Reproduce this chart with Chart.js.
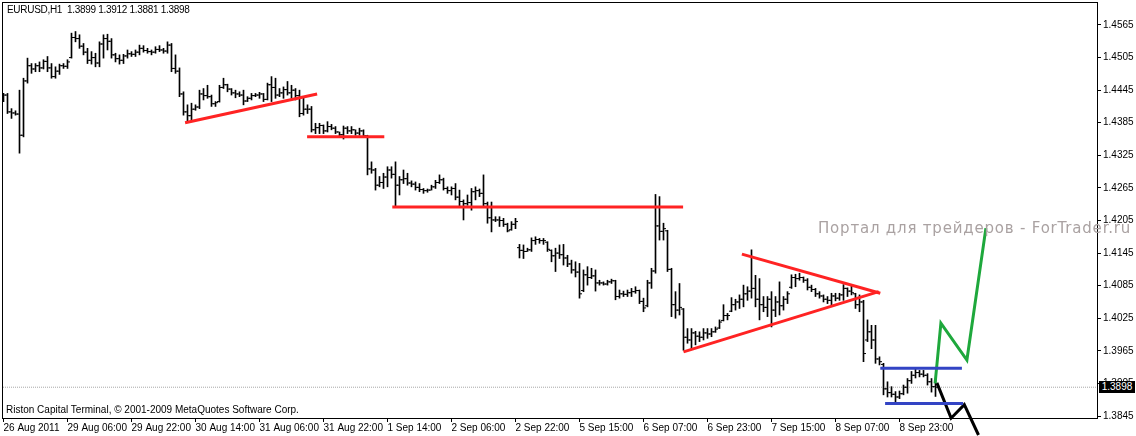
<!DOCTYPE html>
<html>
<head>
<meta charset="utf-8">
<script src="https://cdn.jsdelivr.net/npm/chart.js@4.4.0/dist/chart.umd.min.js"></script>
<style>
  body { margin: 0; background: #fff; }
  #wrap { position: relative; width: 1136px; height: 436px; overflow: hidden; }
  #chart { position: absolute; left: 0; top: 0; }
  .txt { position: absolute; white-space: pre; line-height: 1; font-family: "Liberation Sans", Arial, sans-serif; color: #000; }
  #header { left: 7px; top: 5px; font-size: 10px; letter-spacing: -0.3px; }
  #footer { left: 6px; top: 405px; font-size: 10px; }
  #mark { left: 818px; top: 221px; font-family: "DejaVu Sans", sans-serif; font-size: 15px; color: #aaa2a2; letter-spacing: 0.8px; }
  #price { left: 1099px; top: 381px; width: 36px; height: 12px; background: #000; color: #fff; font-size: 10px; line-height: 12px; text-align: center; }
</style>
</head>
<body>
<div id="wrap">
  <canvas id="chart" width="1136" height="436"></canvas>
  <div class="txt" id="header">EURUSD,H1  1.3899 1.3912 1.3881 1.3898</div>
  <div class="txt" id="footer">Riston Capital Terminal, © 2001-2009 MetaQuotes Software Corp.</div>
  <div class="txt" id="mark">Портал для трейдеров - ForTrader.ru</div>
  <div class="txt" id="price">1.3898</div>
</div>
<script>
// EURUSD H1, one entry per hourly bar (26 Aug 2011 14:00 .. 9 Sep 2011)
const opens = [
  1.4432,1.4436,1.4405,1.4403,1.4401,1.4362,1.4462,1.4490,1.4484,1.4490,
  1.4486,1.4498,1.4486,1.4470,1.4480,1.4490,1.4489,1.4505,1.4542,1.4540,
  1.4526,1.4515,1.4500,1.4505,1.4495,1.4530,1.4540,1.4535,1.4510,1.4503,
  1.4500,1.4508,1.4512,1.4511,1.4515,1.4522,1.4518,1.4516,1.4515,1.4520,
  1.4519,1.4517,1.4528,1.4485,1.4480,1.4438,1.4405,1.4398,1.4410,1.4414,
  1.4438,1.4435,1.4433,1.4420,1.4424,1.4450,1.4455,1.4447,1.4440,1.4438,
  1.4436,1.4425,1.4430,1.4435,1.4436,1.4438,1.4428,1.4455,1.4450,1.4436,
  1.4440,1.4446,1.4440,1.4445,1.4435,1.4402,1.4410,1.4410,1.4372,1.4376,
  1.4380,1.4370,1.4378,1.4375,1.4368,1.4363,1.4375,1.4370,1.4372,1.4366,
  1.4370,1.4361,1.4300,1.4298,1.4270,1.4275,1.4285,1.4298,1.4290,1.4270,
  1.4280,1.4282,1.4274,1.4272,1.4266,1.4262,1.4260,1.4261,1.4267,1.4275,
  1.4280,1.4264,1.4260,1.4264,1.4248,1.4240,1.4236,1.4238,1.4258,1.4260,
  1.4255,1.4236,1.4210,1.4206,1.4206,1.4205,1.4198,1.4188,1.4198,1.4155,
  1.4150,1.4148,1.4151,1.4168,1.4170,1.4168,1.4165,1.4150,1.4140,1.4145,
  1.4142,1.4136,1.4125,1.4114,1.4110,1.4076,1.4105,1.4100,1.4103,1.4090,
  1.4090,1.4088,1.4092,1.4094,1.4065,1.4070,1.4069,1.4072,1.4074,1.4076,
  1.4056,1.4048,1.4090,1.4112,1.4195,1.4185,1.4186,1.4115,1.4050,1.4040,
  1.4042,1.3990,1.3985,1.3998,1.3992,1.3990,1.3998,1.3996,1.4000,1.4007,
  1.4021,1.4030,1.4038,1.4050,1.4055,1.4060,1.4070,1.4075,1.4080,1.4060,
  1.4050,1.4045,1.4060,1.4040,1.4055,1.4048,1.4060,1.4082,1.4100,1.4098,
  1.4100,1.4095,1.4082,1.4078,1.4070,1.4066,1.4060,1.4058,1.4066,1.4062,
  1.4068,1.4080,1.4075,1.4070,1.4050,1.4055,1.3985,1.4000,1.3985,1.3950,
  1.3940,1.3895,1.3888,1.3885,1.3880,1.3886,1.3898,1.3910,1.3920,1.3925,
  1.3922,1.3920,1.3908,1.3899
];
const highs = [
  1.4439,1.4439,1.4411,1.4407,1.4445,1.4467,1.4504,1.4494,1.4494,1.4497,
  1.4501,1.4507,1.4494,1.4488,1.4493,1.4494,1.4501,1.4550,1.4553,1.4547,
  1.4531,1.4522,1.4516,1.4513,1.4534,1.4547,1.4548,1.4540,1.4513,1.4510,
  1.4511,1.4519,1.4516,1.4519,1.4528,1.4527,1.4522,1.4519,1.4525,1.4527,
  1.4522,1.4534,1.4531,1.4510,1.4486,1.4442,1.4418,1.4421,1.4418,1.4445,
  1.4448,1.4454,1.4436,1.4424,1.4454,1.4467,1.4456,1.4448,1.4445,1.4442,
  1.4445,1.4433,1.4439,1.4439,1.4441,1.4439,1.4458,1.4470,1.4467,1.4448,
  1.4451,1.4461,1.4454,1.4448,1.4445,1.4430,1.4418,1.4415,1.4384,1.4384,
  1.4381,1.4387,1.4382,1.4378,1.4368,1.4379,1.4378,1.4378,1.4372,1.4375,
  1.4372,1.4362,1.4313,1.4301,1.4286,1.4292,1.4304,1.4304,1.4313,1.4286,
  1.4298,1.4292,1.4278,1.4276,1.4273,1.4264,1.4263,1.4270,1.4279,1.4289,
  1.4283,1.4267,1.4267,1.4273,1.4261,1.4243,1.4252,1.4264,1.4267,1.4263,
  1.4289,1.4239,1.4239,1.4212,1.4212,1.4209,1.4200,1.4203,1.4209,1.4161,
  1.4160,1.4154,1.4173,1.4175,1.4172,1.4172,1.4166,1.4151,1.4154,1.4160,
  1.4161,1.4141,1.4132,1.4129,1.4126,1.4114,1.4120,1.4117,1.4114,1.4095,
  1.4092,1.4095,1.4097,1.4095,1.4077,1.4075,1.4077,1.4080,1.4083,1.4077,
  1.4062,1.4095,1.4117,1.4253,1.4249,1.4200,1.4187,1.4117,1.4074,1.4089,
  1.4043,1.4006,1.4006,1.4001,1.4000,1.4006,1.4006,1.4006,1.4009,1.4022,
  1.4050,1.4034,1.4063,1.4060,1.4068,1.4086,1.4083,1.4151,1.4104,1.4098,
  1.4065,1.4065,1.4074,1.4065,1.4092,1.4065,1.4074,1.4105,1.4106,1.4108,
  1.4101,1.4098,1.4086,1.4080,1.4074,1.4068,1.4065,1.4071,1.4071,1.4071,
  1.4087,1.4081,1.4087,1.4071,1.4068,1.4058,1.4022,1.4012,1.4012,1.3954,
  1.3942,1.3908,1.3899,1.3890,1.3891,1.3902,1.3914,1.3927,1.3931,1.3929,
  1.3929,1.3923,1.3914,1.3912
];
const lows = [
  1.4424,1.4402,1.4393,1.4399,1.4329,1.4359,1.4458,1.4476,1.4479,1.4479,
  1.4484,1.4479,1.4467,1.4467,1.4474,1.4485,1.4485,1.4504,1.4534,1.4522,
  1.4510,1.4494,1.4493,1.4488,1.4488,1.4504,1.4519,1.4504,1.4497,1.4493,
  1.4494,1.4504,1.4507,1.4507,1.4510,1.4515,1.4513,1.4510,1.4513,1.4516,
  1.4513,1.4513,1.4479,1.4476,1.4433,1.4399,1.4387,1.4390,1.4408,1.4411,
  1.4427,1.4430,1.4415,1.4415,1.4423,1.4448,1.4442,1.4436,1.4431,1.4433,
  1.4418,1.4424,1.4427,1.4433,1.4430,1.4424,1.4427,1.4424,1.4430,1.4433,
  1.4430,1.4436,1.4430,1.4427,1.4396,1.4399,1.4402,1.4368,1.4365,1.4365,
  1.4365,1.4368,1.4372,1.4365,1.4359,1.4355,1.4365,1.4365,1.4362,1.4362,
  1.4359,1.4289,1.4292,1.4261,1.4267,1.4264,1.4267,1.4283,1.4230,1.4252,
  1.4273,1.4270,1.4267,1.4261,1.4258,1.4255,1.4257,1.4261,1.4264,1.4273,
  1.4261,1.4255,1.4252,1.4243,1.4230,1.4206,1.4233,1.4224,1.4243,1.4249,
  1.4230,1.4200,1.4184,1.4203,1.4194,1.4194,1.4184,1.4187,1.4190,1.4136,
  1.4135,1.4148,1.4148,1.4161,1.4163,1.4161,1.4148,1.4129,1.4111,1.4135,
  1.4123,1.4120,1.4108,1.4101,1.4062,1.4074,1.4086,1.4098,1.4075,1.4086,
  1.4086,1.4086,1.4089,1.4059,1.4062,1.4065,1.4065,1.4065,1.4071,1.4052,
  1.4037,1.4046,1.4080,1.4108,1.4169,1.4169,1.4111,1.4028,1.4025,1.4031,
  1.3966,1.3979,1.3969,1.3976,1.3982,1.3985,1.3988,1.3991,1.3999,1.4006,
  1.4020,1.4022,1.4037,1.4040,1.4043,1.4046,1.4058,1.4062,1.4046,1.4022,
  1.4037,1.4028,1.4009,1.4028,1.4031,1.4040,1.4052,1.4080,1.4083,1.4095,
  1.4091,1.4077,1.4074,1.4065,1.4062,1.4055,1.4052,1.4050,1.4057,1.4058,
  1.4058,1.4065,1.4068,1.4043,1.4037,1.3945,1.3982,1.3969,1.3942,1.3939,
  1.3884,1.3880,1.3880,1.3871,1.3877,1.3884,1.3887,1.3905,1.3915,1.3917,
  1.3917,1.3902,1.3889,1.3881
];
const closes = [
  1.4436,1.4405,1.4403,1.4401,1.4362,1.4462,1.4490,1.4484,1.4490,1.4486,
  1.4498,1.4486,1.4470,1.4480,1.4490,1.4489,1.4497,1.4542,1.4540,1.4526,
  1.4515,1.4500,1.4505,1.4495,1.4530,1.4540,1.4535,1.4510,1.4503,1.4500,
  1.4508,1.4512,1.4511,1.4515,1.4522,1.4518,1.4516,1.4515,1.4520,1.4519,
  1.4517,1.4528,1.4485,1.4480,1.4438,1.4405,1.4398,1.4410,1.4414,1.4438,
  1.4435,1.4433,1.4420,1.4422,1.4450,1.4455,1.4447,1.4440,1.4438,1.4436,
  1.4425,1.4430,1.4435,1.4436,1.4438,1.4428,1.4455,1.4450,1.4436,1.4440,
  1.4446,1.4440,1.4445,1.4435,1.4402,1.4410,1.4410,1.4372,1.4376,1.4380,
  1.4370,1.4378,1.4375,1.4368,1.4363,1.4375,1.4370,1.4372,1.4366,1.4370,
  1.4361,1.4300,1.4298,1.4270,1.4275,1.4285,1.4298,1.4290,1.4270,1.4280,
  1.4282,1.4274,1.4272,1.4266,1.4262,1.4260,1.4261,1.4267,1.4275,1.4280,
  1.4264,1.4260,1.4264,1.4248,1.4240,1.4236,1.4238,1.4258,1.4260,1.4255,
  1.4236,1.4210,1.4206,1.4206,1.4205,1.4198,1.4186,1.4198,1.4203,1.4150,
  1.4148,1.4151,1.4168,1.4170,1.4168,1.4168,1.4152,1.4140,1.4145,1.4142,
  1.4136,1.4125,1.4114,1.4110,1.4070,1.4105,1.4100,1.4103,1.4090,1.4090,
  1.4088,1.4092,1.4094,1.4065,1.4070,1.4069,1.4072,1.4074,1.4076,1.4056,
  1.4044,1.4090,1.4112,1.4195,1.4185,1.4190,1.4115,1.4050,1.4040,1.4045,
  1.3990,1.3985,1.3998,1.3992,1.3990,1.3998,1.3996,1.4000,1.4005,1.4018,
  1.4030,1.4030,1.4050,1.4055,1.4060,1.4070,1.4075,1.4080,1.4060,1.4050,
  1.4045,1.4060,1.4040,1.4055,1.4048,1.4060,1.4070,1.4100,1.4098,1.4100,
  1.4095,1.4082,1.4078,1.4070,1.4066,1.4060,1.4058,1.4066,1.4062,1.4068,
  1.4080,1.4075,1.4072,1.4050,1.4055,1.3960,1.4000,1.3985,1.3950,1.3945,
  1.3895,1.3888,1.3885,1.3880,1.3886,1.3898,1.3910,1.3920,1.3925,1.3922,
  1.3920,1.3908,1.3899,1.3898
];

// time axis: bar index of each label and its text
const labelBars = [0, 16, 32, 48, 64, 80, 96, 112, 128, 144, 160, 176, 192, 208, 224];
const labelTexts = ['26 Aug 2011', '29 Aug 06:00', '29 Aug 22:00', '30 Aug 14:00', '31 Aug 06:00',
  '31 Aug 22:00', '1 Sep 14:00', '2 Sep 06:00', '2 Sep 22:00', '5 Sep 15:00', '6 Sep 07:00',
  '6 Sep 23:00', '7 Sep 15:00', '8 Sep 07:00', '8 Sep 23:00'];

const yTicks = [1.4565, 1.4505, 1.4445, 1.4385, 1.4325, 1.4265, 1.4205, 1.4145,
  1.4085, 1.4025, 1.3965, 1.3905, 1.3845];
const lastPrice = 1.3898;

// drawn objects, x in bars, y in price
const redRise = [{x: 45.4, y: 1.4385}, {x: 78.4, y: 1.4438}];
const redFlat1 = [{x: 75.9, y: 1.4359}, {x: 95.2, y: 1.4359}];
const redFlat2 = [{x: 97.2, y: 1.4230}, {x: 169.9, y: 1.4230}];
const triTop = [{x: 184.6, y: 1.4143}, {x: 219.2, y: 1.4071}];
const triBottom = [{x: 170.0, y: 1.3963}, {x: 218.8, y: 1.4074}];
const blueTop = [{x: 219.2, y: 1.3933}, {x: 239.6, y: 1.3933}];
const blueBottom = [{x: 220.4, y: 1.3868}, {x: 239.9, y: 1.3868}];
const greenPath = [{x: 232.9, y: 1.3905}, {x: 234.35, y: 1.4016}, {x: 240.85, y: 1.3948}, {x: 245.6, y: 1.4191}];
const blackPath = [{x: 233.35, y: 1.3906}, {x: 236.9, y: 1.3841}, {x: 240.2, y: 1.3866}, {x: 243.75, y: 1.3810}];

const X_MIN = -0.125, X_MAX = 273.375;
const Y_MIN = 1.384132, Y_MAX = 1.460551;

function drawnLine(points, color, order, clip) {
    return {
        type: 'line',
        data: points,
        borderColor: color,
        borderWidth: 3,
        borderCapStyle: 'butt',
        pointRadius: 0,
        fill: false,
        tension: 0,
        order: order,
        clip: clip === false ? false : undefined
    };
}

function tickSet(values, shift) {
    return {
        type: 'line',
        data: values.map((v, i) => ({x: i + shift, y: v})),
        showLine: false,
        pointStyle: 'line',
        pointRadius: 1,
        pointBorderWidth: 1,
        pointBorderColor: '#000',
        pointHoverRadius: 0,
        order: 5
    };
}

const framePlugin = {
    id: 'frame',
    afterDraw(chart) {
        const a = chart.chartArea;
        const ctx = chart.ctx;
        ctx.save();
        ctx.strokeStyle = '#000';
        ctx.lineWidth = 1;
        ctx.strokeRect(a.left - 0.5, a.top - 0.5, a.right - a.left + 1, a.bottom - a.top + 1);
        ctx.restore();
    }
};

const ctx = document.getElementById('chart').getContext('2d');
new Chart(ctx, {
    type: 'bar',
    data: {
        datasets: [
            drawnLine(redRise, '#ff2323', 0),
            drawnLine(redFlat1, '#ff2323', 0),
            drawnLine(redFlat2, '#ff2323', 0),
            drawnLine(triTop, '#ff2323', 0),
            drawnLine(triBottom, '#ff2323', 0),
            drawnLine(blueTop, '#3344c4', 0),
            drawnLine(blueBottom, '#3344c4', 0),
            drawnLine(greenPath, '#1ea83c', 0),
            drawnLine(blackPath, '#000000', 0, false),
            {
                type: 'bar',
                data: highs.map((h, i) => ({x: i, y: [lows[i], h]})),
                backgroundColor: '#000',
                borderWidth: 0,
                barThickness: 1,
                grouped: false,
                order: 5
            },
            tickSet(opens, -0.375),
            tickSet(closes, 0.375),
            {
                type: 'line',
                data: [{x: X_MIN, y: lastPrice}, {x: X_MAX, y: lastPrice}],
                borderColor: '#a8a8a8',
                borderWidth: 1,
                borderDash: [1, 1],
                pointRadius: 0,
                order: 9
            }
        ]
    },
    options: {
        responsive: false,
        animation: false,
        devicePixelRatio: 1,
        layout: {padding: {left: 3, top: 3, right: 0, bottom: 0}},
        plugins: {legend: {display: false}, tooltip: {enabled: false}},
        events: [],
        scales: {
            x: {
                type: 'linear',
                min: X_MIN,
                max: X_MAX,
                offset: false,
                afterBuildTicks: s => { s.ticks = labelBars.map(v => ({value: v})); },
                afterFit: s => { s.height = 18; s.paddingLeft = 0; s.paddingRight = 0; },
                grid: {display: true, drawOnChartArea: false, drawTicks: true, tickLength: 4, color: '#000', offset: false},
                border: {display: false},
                ticks: {
                    autoSkip: false,
                    maxRotation: 0,
                    minRotation: 0,
                    align: 'start',
                    padding: 0,
                    color: '#000',
                    font: {family: 'Liberation Sans', size: 10},
                    callback: v => labelTexts[labelBars.indexOf(v)]
                }
            },
            y: {
                type: 'linear',
                position: 'right',
                min: Y_MIN,
                max: Y_MAX,
                afterBuildTicks: s => { s.ticks = yTicks.map(v => ({value: v})); },
                afterFit: s => { s.width = 39; s.paddingTop = 0; s.paddingBottom = 0; },
                grid: {display: true, drawOnChartArea: false, drawTicks: true, tickLength: 4, color: '#000'},
                border: {display: false},
                ticks: {
                    padding: 2,
                    color: '#000',
                    font: {family: 'Liberation Sans', size: 10},
                    callback: v => v.toFixed(4)
                }
            }
        }
    },
    plugins: [framePlugin]
});
</script>
</body>
</html>
